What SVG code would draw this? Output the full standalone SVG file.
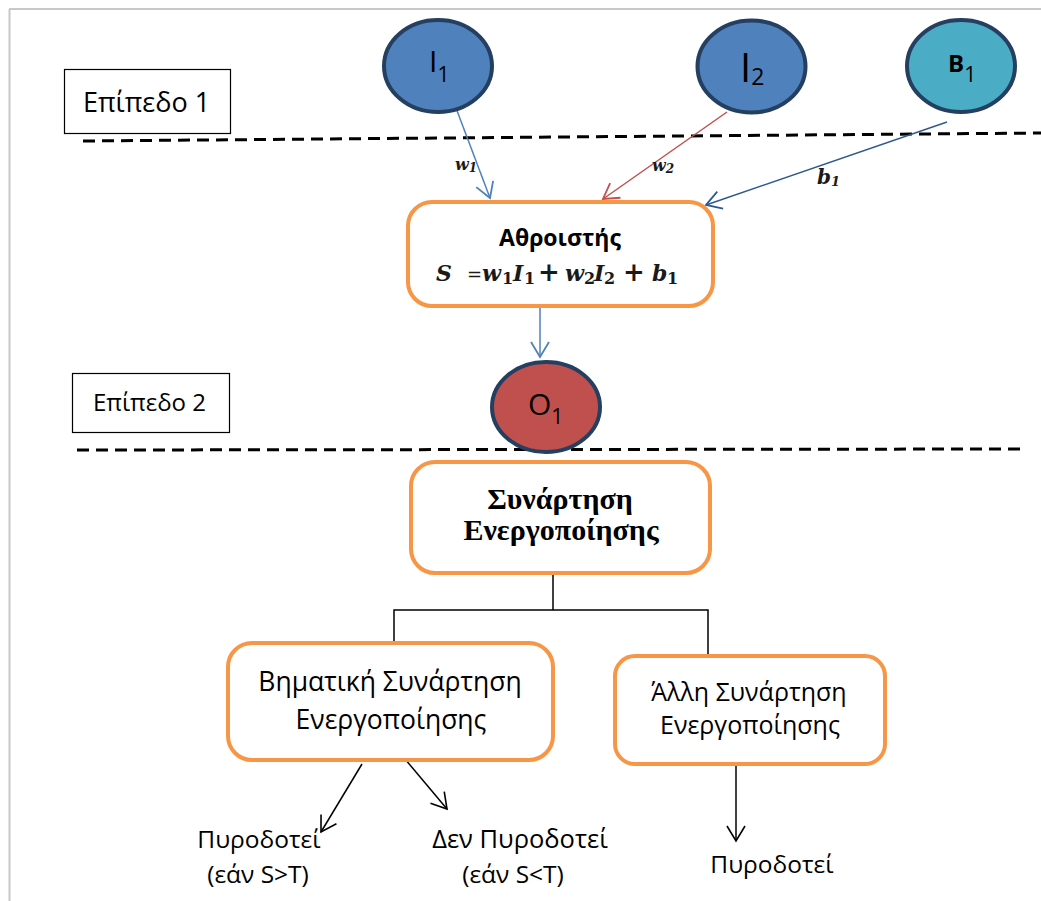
<svg xmlns="http://www.w3.org/2000/svg" width="1041" height="901" viewBox="0 0 1041 901">
  <style>
    .sans { font-family: "Open Sans", "Noto Sans", "DejaVu Sans", sans-serif; fill: #000; }
    .serif { font-family: "Liberation Serif", "DejaVu Serif", serif; fill: #000; }
    .math { font-family: "DejaVu Serif", "Liberation Serif", serif; font-style: italic; font-weight: bold; fill: #1a1a1a; }
    .neuron { stroke: #243F60; stroke-width: 4; }
    .box { fill: #fff; stroke: #F79646; stroke-width: 4; }
    .tag { fill: #fff; stroke: #000; stroke-width: 1.2; }
    .layer { stroke: #000; stroke-width: 3; stroke-dasharray: 12 7; fill: none; }
    .edge { fill: none; stroke-width: 1.5; }
  </style>
  <defs>
    <marker id="arrow-blue" viewBox="-2 -2 20 22" markerWidth="20" markerHeight="22" refX="15" refY="9" orient="auto" markerUnits="userSpaceOnUse">
      <path d="M0,0 L15,9 L0,18" fill="none" stroke="#4F81BD" stroke-width="1.8"/>
    </marker>
    <marker id="arrow-red" viewBox="-2 -2 20 22" markerWidth="20" markerHeight="22" refX="15" refY="9" orient="auto" markerUnits="userSpaceOnUse">
      <path d="M0,0 L15,9 L0,18" fill="none" stroke="#C0504D" stroke-width="1.8"/>
    </marker>
    <marker id="arrow-navy" viewBox="-2 -2 20 22" markerWidth="20" markerHeight="22" refX="15" refY="9" orient="auto" markerUnits="userSpaceOnUse">
      <path d="M0,0 L15,9 L0,18" fill="none" stroke="#2C5A8F" stroke-width="1.8"/>
    </marker>
    <marker id="arrow-black" viewBox="-2 -2 20 22" markerWidth="20" markerHeight="22" refX="15" refY="9" orient="auto" markerUnits="userSpaceOnUse">
      <path d="M0,0 L15,9 L0,18" fill="none" stroke="#000" stroke-width="1.6"/>
    </marker>
  </defs>

  <!-- page frame -->
  <rect x="0" y="0" width="1041" height="901" fill="#fff"/>
  <line x1="9" y1="9" x2="1041" y2="9" stroke="#C8C8C8" stroke-width="2"/>
  <line x1="9.5" y1="9" x2="9.5" y2="901" stroke="#C8C8C8" stroke-width="2"/>

  <!-- layer separators -->
  <line class="layer" x1="83" y1="141" x2="1041" y2="133"/>
  <line class="layer" x1="77" y1="450" x2="1020" y2="449"/>

  <!-- connectors -->
  <g id="connectors">
    <line class="edge" x1="456" y1="108" x2="490" y2="198" stroke="#4F81BD" marker-end="url(#arrow-blue)"/>
    <line class="edge" x1="727" y1="112" x2="603" y2="199" stroke="#C0504D" marker-end="url(#arrow-red)"/>
    <line class="edge" x1="947" y1="122" x2="706" y2="205" stroke="#2C5A8F" marker-end="url(#arrow-navy)"/>
    <line class="edge" x1="540" y1="302" x2="540" y2="357" stroke="#4F81BD" marker-end="url(#arrow-blue)"/>
    <polyline class="edge" stroke="#000" points="553,558 553,610"/>
    <polyline class="edge" stroke="#000" points="394,641 394,610 708,610 708,655"/>
    <line class="edge" x1="362" y1="764" x2="321" y2="832" stroke="#000" marker-end="url(#arrow-black)"/>
    <line class="edge" x1="405" y1="759" x2="447" y2="809" stroke="#000" marker-end="url(#arrow-black)"/>
    <line class="edge" x1="736" y1="764" x2="736" y2="841" stroke="#000" marker-end="url(#arrow-black)"/>
    <!-- weight labels -->
    <text class="math" font-size="16" x="455" y="170">w<tspan font-size="12" dy="2">1</tspan></text>
    <text class="math" font-size="16" x="652" y="171">w<tspan font-size="12" dy="2">2</tspan></text>
    <text class="math" font-size="20" x="817" y="184">b<tspan font-size="13" dy="2">1</tspan></text>
  </g>

  <!-- layer tags -->
  <g id="tag-layer1">
    <rect class="tag" x="64.5" y="69.5" width="166" height="64"/>
    <text class="sans" font-size="27" x="83" y="112">Επίπεδο 1</text>
  </g>
  <g id="tag-layer2">
    <rect class="tag" x="72.5" y="373.5" width="157" height="59"/>
    <text class="sans" font-size="24" x="93" y="411">Επίπεδο 2</text>
  </g>

  <!-- input neurons -->
  <g id="node-I1">
    <ellipse class="neuron" cx="438" cy="66" rx="54" ry="46" fill="#4F81BD"/>
    <text class="sans" font-size="30" x="429" y="72">I<tspan font-size="21" dy="10">1</tspan></text>
  </g>
  <g id="node-I2">
    <ellipse class="neuron" cx="751.5" cy="66.5" rx="54" ry="46" fill="#4F81BD"/>
    <text class="sans" font-size="40" x="740" y="82">I<tspan font-size="23" dy="3">2</tspan></text>
  </g>
  <g id="node-B1">
    <ellipse class="neuron" cx="961" cy="66" rx="54" ry="46" fill="#4BACC6"/>
    <text class="sans" font-size="24" font-weight="bold" x="948" y="72">B<tspan font-size="21" font-weight="normal" dy="10">1</tspan></text>
  </g>

  <!-- summation unit -->
  <g id="node-sum">
    <rect class="box" x="408" y="202" width="305" height="104" rx="24"/>
    <text class="sans" font-size="23" font-weight="bold" x="560" y="246" text-anchor="middle">Αθροιστής</text>
    <text class="math" font-size="22" y="281">
      <tspan x="436">S</tspan>
      <tspan x="467" font-style="normal" font-weight="normal" font-size="18">=</tspan>
      <tspan x="482">w</tspan><tspan x="502" dy="3" font-size="16" font-style="normal">1</tspan>
      <tspan x="513" dy="-3">I</tspan><tspan x="524" dy="3" font-size="16" font-style="normal">1</tspan>
      <tspan x="538" dy="-3" font-style="normal" font-size="26">+</tspan>
      <tspan x="565">w</tspan><tspan x="584" dy="3" font-size="16" font-style="normal">2</tspan>
      <tspan x="594" dy="-3">I</tspan><tspan x="604" dy="3" font-size="16" font-style="normal">2</tspan>
      <tspan x="623" dy="-3" font-style="normal" font-size="26">+</tspan>
      <tspan x="652">b</tspan><tspan x="667" dy="3" font-size="16" font-style="normal">1</tspan>
    </text>
  </g>

  <!-- output neuron -->
  <g id="node-O1">
    <ellipse class="neuron" cx="546" cy="407" rx="54" ry="45" fill="#C0504D"/>
    <text class="sans" font-size="30" x="528" y="415">O<tspan font-size="21" dy="9">1</tspan></text>
  </g>

  <!-- activation function -->
  <g id="node-activation">
    <rect class="box" x="411" y="462" width="299" height="111" rx="24"/>
    <text class="serif" font-size="30" font-weight="bold" x="560" y="509" text-anchor="middle">Συνάρτηση</text>
    <text class="serif" font-size="30" font-weight="bold" x="561" y="540" text-anchor="middle">Ενεργοποίησης</text>
  </g>

  <g id="node-step">
    <rect class="box" x="228" y="643" width="325" height="117" rx="24"/>
    <text class="sans" font-size="26.5" x="390" y="691" text-anchor="middle">Βηματική Συνάρτηση</text>
    <text class="sans" font-size="26.5" x="391" y="729" text-anchor="middle">Ενεργοποίησης</text>
  </g>

  <g id="node-other">
    <rect class="box" x="615" y="656" width="270" height="108" rx="20"/>
    <text class="sans" font-size="25" x="749" y="701" text-anchor="middle">Άλλη Συνάρτηση</text>
    <text class="sans" font-size="25" x="750" y="734" text-anchor="middle">Ενεργοποίησης</text>
  </g>

  <!-- outcomes -->
  <g id="out-fires">
    <text class="sans" font-size="24.5" x="259" y="848" text-anchor="middle">Πυροδοτεί</text>
    <text class="sans" font-size="24.5" x="258" y="883" text-anchor="middle">(εάν S&gt;T)</text>
  </g>
  <g id="out-nofire">
    <text class="sans" font-size="25.5" x="520" y="848" text-anchor="middle">Δεν Πυροδοτεί</text>
    <text class="sans" font-size="24.5" x="513" y="883" text-anchor="middle">(εάν S&lt;T)</text>
  </g>
  <g id="out-other">
    <text class="sans" font-size="24.5" x="772" y="873" text-anchor="middle">Πυροδοτεί</text>
  </g>
</svg>
